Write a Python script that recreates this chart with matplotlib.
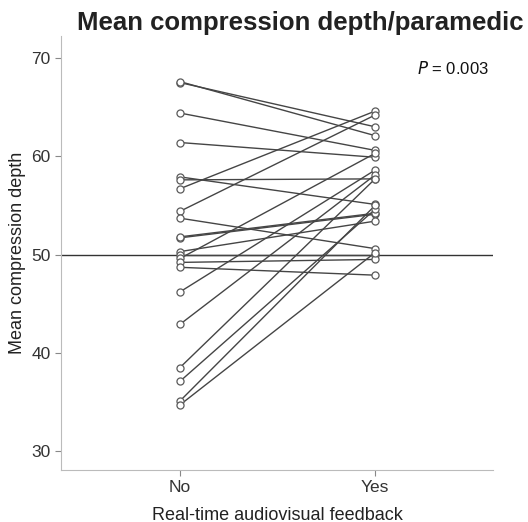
import matplotlib.pyplot as plt

# Paired values: mean compression depth per paramedic, without / with feedback
groups = ["No", "Yes"]
depth_no = [67.5, 67.6, 64.4, 61.4, 57.9, 57.6, 56.7, 54.4, 53.7, 51.7, 51.8,
            50.3, 50.0, 49.6, 49.2, 48.7, 46.2, 42.9, 38.5, 37.1, 35.1, 34.7]
depth_yes = [63.0, 62.1, 60.6, 59.9, 55.1, 57.7, 64.6, 64.2, 50.6, 54.1, 54.2,
             53.4, 50.0, 60.3, 49.5, 47.9, 58.6, 58.1, 57.7, 54.6, 55.0, 50.2]
yticks = [30, 40, 50, 60, 70]
reference_depth = 50
p_text = "$P$ = 0.003"

plt.rcParams['font.family'] = ['Liberation Sans', 'DejaVu Sans']

fig = plt.figure(figsize=(5.28, 5.22), dpi=100)
ax = fig.add_axes([0.1155, 0.0996, 0.8185, 0.8314])

# one line per paramedic
for a, b in zip(depth_no, depth_yes):
    ax.plot([0, 1], [a, b], color='#454545', lw=1.0, zorder=2)
ax.scatter([0] * len(depth_no), depth_no, s=26, facecolor='white',
           edgecolor='#5a5a5a', lw=0.9, zorder=3)
ax.scatter([1] * len(depth_yes), depth_yes, s=26, facecolor='white',
           edgecolor='#5a5a5a', lw=0.9, zorder=3)

ax.axhline(reference_depth, color='#333333', lw=1.0, zorder=1)

ax.set_xlim(-0.61, 1.605)
ax.set_ylim(28.07, 72.24)
ax.set_xticks([0, 1])
ax.set_xticklabels(groups)
ax.set_yticks(yticks)

for side in ['top', 'right']:
    ax.spines[side].set_visible(False)
for side in ['left', 'bottom']:
    ax.spines[side].set_color('#bbbbbb')
ax.tick_params(colors='#333333', labelsize=12.5, length=4, width=0.8)
ax.tick_params(axis='both', color='#888888')

ax.set_xlabel("Real-time audiovisual feedback", fontsize=13, color='#222222',
              labelpad=8)
ax.set_ylabel("Mean compression depth", fontsize=13, color='#222222')

ax.text(0.99, 0.925, p_text, transform=ax.transAxes, ha='right', va='center',
        fontsize=12, color='#111111')

fig.text(0.568, 0.955, "Mean compression depth/paramedic", ha='center',
         va='center', fontsize=18.5, fontweight='bold', color='#222222')

fig.savefig('out.png', dpi=100)
